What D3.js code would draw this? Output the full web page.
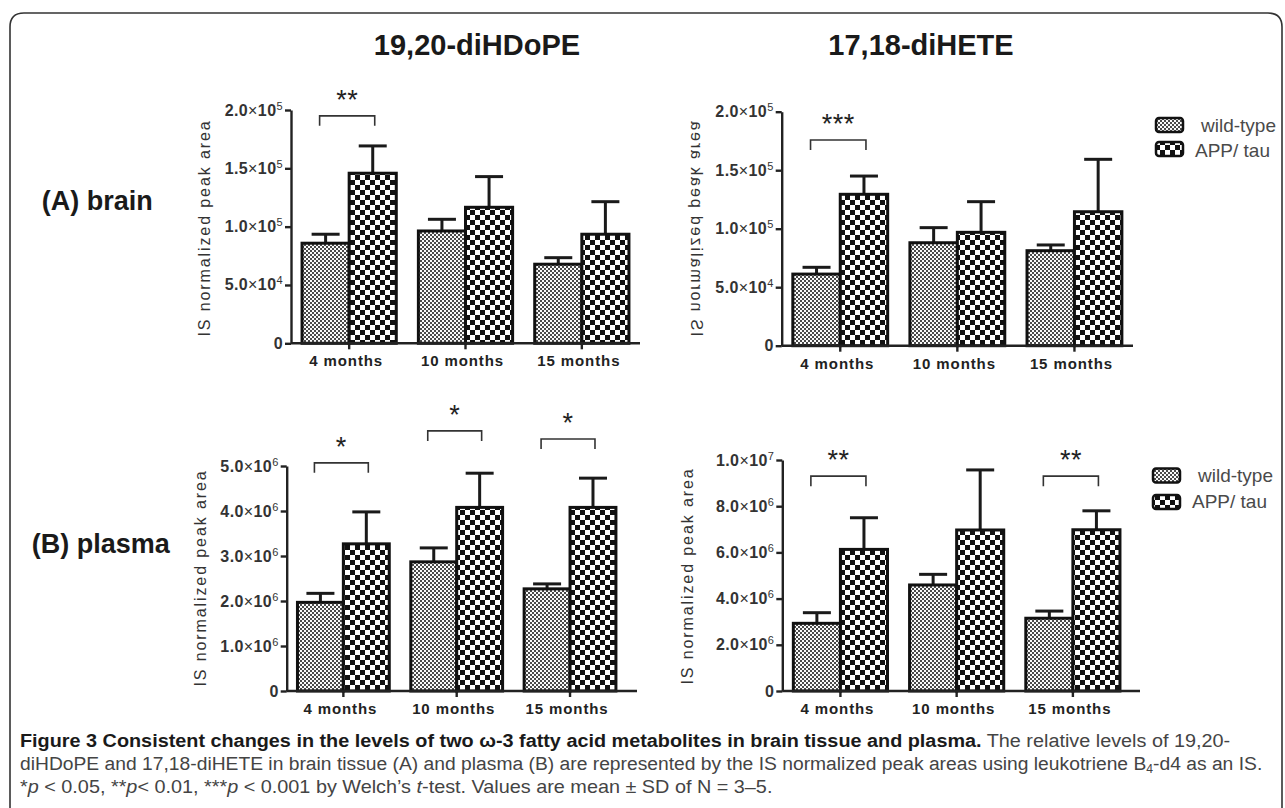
<!DOCTYPE html>
<html><head><meta charset="utf-8">
<script src="https://cdn.jsdelivr.net/npm/d3@7"></script>
<style>body{margin:0;background:#fff}svg{display:block}</style>
</head><body><svg id="c" width="1285" height="808"></svg>
<script>
// ---------- data ----------
const categories = ["4 months", "10 months", "15 months"];
const seriesNames = ["wild-type", "APP/ tau"];
const metaboliteTitles = ["19,20-diHDoPE", "17,18-diHETE"];
const tissueLabels = ["(A)", "brain", "(B)", "plasma"];
const yAxisTitle = "IS normalized peak area";

// (A) brain, 19,20-diHDoPE
const brainHDoPE_wt = [85800, 96300, 67800];
const brainHDoPE_wtSD = [7700, 10000, 5600];
const brainHDoPE_app = [145800, 116600, 93500];
const brainHDoPE_appSD = [23400, 26300, 27900];
const brainHDoPE_sig = ["**", "", ""];
const brainHDoPE_bracket = [195000, null, null];

// (A) brain, 17,18-diHETE
const brainHETE_wt = [61200, 88000, 81200];
const brainHETE_wtSD = [5800, 12900, 4900];
const brainHETE_app = [129400, 96900, 114500];
const brainHETE_appSD = [15600, 26200, 44800];
const brainHETE_sig = ["***", "", ""];
const brainHETE_bracket = [175800, null, null];

// (B) plasma, 19,20-diHDoPE
const plasmaHDoPE_wt = [1.97e6, 2.87e6, 2.27e6];
const plasmaHDoPE_wtSD = [0.20e6, 0.31e6, 0.11e6];
const plasmaHDoPE_app = [3.27e6, 4.08e6, 4.08e6];
const plasmaHDoPE_appSD = [0.71e6, 0.76e6, 0.65e6];
const plasmaHDoPE_sig = ["*", "*", "*"];
const plasmaHDoPE_bracket = [5.07e6, 5.78e6, 5.6e6];

// (B) plasma, 17,18-diHETE
const plasmaHETE_wt = [2.93e6, 4.59e6, 3.15e6];
const plasmaHETE_wtSD = [0.46e6, 0.46e6, 0.31e6];
const plasmaHETE_app = [6.13e6, 6.97e6, 6.98e6];
const plasmaHETE_appSD = [1.37e6, 2.60e6, 0.82e6];
const plasmaHETE_sig = ["**", "", "**"];
const plasmaHETE_bracket = [9.3e6, null, 9.3e6];

// tick values
const brainTicks = [0, 5e4, 1e5, 1.5e5, 2e5];
const plasmaHDoPETicks = [0, 1e6, 2e6, 3e6, 4e6, 5e6];
const plasmaHETETicks = [0, 2e6, 4e6, 6e6, 8e6, 1e7];

// ---------- drawing ----------
const svg = d3.select("#c");
const defs = svg.append("defs");
const FONT = "'Liberation Sans', Arial, Helvetica, sans-serif";

// patterns
const pWT = defs.append("pattern").attr("id", "pWT").attr("patternUnits", "userSpaceOnUse").attr("width", 4).attr("height", 4);
pWT.append("rect").attr("width", 4).attr("height", 4).attr("fill", "#fafafa");
pWT.append("rect").attr("width", 2).attr("height", 2).attr("fill", "#4a4a4a");
pWT.append("rect").attr("x", 2).attr("y", 2).attr("width", 2).attr("height", 2).attr("fill", "#4a4a4a");
const pAPP = defs.append("pattern").attr("id", "pAPP").attr("patternUnits", "userSpaceOnUse").attr("width", 10).attr("height", 10);
pAPP.append("rect").attr("width", 10).attr("height", 10).attr("fill", "#fff");
pAPP.append("rect").attr("width", 5).attr("height", 5).attr("fill", "#111");
pAPP.append("rect").attr("x", 5).attr("y", 5).attr("width", 5).attr("height", 5).attr("fill", "#111");
const fills = ["url(#pWT)", "url(#pAPP)"];

// frame
svg.append("path")
  .attr("d", "M10,820 V27 Q10,13 24,13 H1268 Q1282,13 1282,27 V820")
  .attr("fill", "none").attr("stroke", "#333").attr("stroke-width", 1.6);

function sciLabel(sel, v) {
  if (v === 0) { sel.text("0"); return; }
  const e = Math.floor(Math.log10(v) + 1e-9);
  const m = (v / Math.pow(10, e)).toFixed(1);
  sel.append("tspan").text(m);
  sel.append("tspan").attr("font-weight", "normal").text("\u00D7");
  sel.append("tspan").text("10");
  sel.append("tspan").attr("font-size", "11px").attr("font-weight", "normal").attr("dy", -6).text(e);
}

const panels = [
  { wt: brainHDoPE_wt, wtSD: brainHDoPE_wtSD, app: brainHDoPE_app, appSD: brainHDoPE_appSD,
    sig: brainHDoPE_sig, bracket: brainHDoPE_bracket, ticks: brainTicks,
    ax: 291, bandEnd: 640, axisEnd: 640, yBase: 343.3, yTop: 110, titleX: 204, titleY: 228, mirror: false },
  { wt: brainHETE_wt, wtSD: brainHETE_wtSD, app: brainHETE_app, appSD: brainHETE_appSD,
    sig: brainHETE_sig, bracket: brainHETE_bracket, ticks: brainTicks,
    ax: 781.7, bandEnd: 1133, axisEnd: 1133, yBase: 345.7, yTop: 111.7, titleX: 697, titleY: 228, mirror: true },
  { wt: plasmaHDoPE_wt, wtSD: plasmaHDoPE_wtSD, app: plasmaHDoPE_app, appSD: plasmaHDoPE_appSD,
    sig: plasmaHDoPE_sig, bracket: plasmaHDoPE_bracket, ticks: plasmaHDoPETicks,
    ax: 286.7, bandEnd: 626.7, axisEnd: 637, yBase: 691, yTop: 466, titleX: 200, titleY: 578, mirror: false },
  { wt: plasmaHETE_wt, wtSD: plasmaHETE_wtSD, app: plasmaHETE_app, appSD: plasmaHETE_appSD,
    sig: plasmaHETE_sig, bracket: plasmaHETE_bracket, ticks: plasmaHETETicks,
    ax: 782.3, bandEnd: 1131, axisEnd: 1140, yBase: 691, yTop: 460, titleX: 687, titleY: 576, mirror: false }
];

panels.forEach(p => {
  const g = svg.append("g");
  const y = d3.scaleLinear().domain([0, d3.max(p.ticks)]).range([p.yBase, p.yTop]);
  const x = d3.scaleBand().domain(categories).range([p.ax, p.bandEnd]).paddingInner(0.19).paddingOuter(0.095);
  const xs = d3.scaleBand().domain(seriesNames).range([0, x.bandwidth()]);

  const rows = [];
  categories.forEach((c, i) => {
    rows.push({ c, s: seriesNames[0], v: p.wt[i], sd: p.wtSD[i], k: 0 });
    rows.push({ c, s: seriesNames[1], v: p.app[i], sd: p.appSD[i], k: 1 });
  });

  // error bars
  const eb = g.append("g").attr("stroke", "#1a1a1a").attr("stroke-width", 3);
  rows.forEach(r => {
    const cx = x(r.c) + xs(r.s) + xs.bandwidth() / 2;
    eb.append("line").attr("x1", cx).attr("x2", cx).attr("y1", y(r.v)).attr("y2", y(r.v + r.sd));
    eb.append("line").attr("x1", cx - 14).attr("x2", cx + 14).attr("y1", y(r.v + r.sd)).attr("y2", y(r.v + r.sd));
  });

  // bars
  g.append("g").selectAll("rect").data(rows).join("rect")
    .attr("x", r => x(r.c) + xs(r.s))
    .attr("y", r => y(r.v))
    .attr("width", xs.bandwidth())
    .attr("height", r => y(0) - y(r.v))
    .attr("fill", r => fills[r.k])
    .attr("stroke", "#111").attr("stroke-width", 3);

  // y axis
  const ya = g.append("g").attr("transform", `translate(${p.ax},0)`)
    .call(d3.axisLeft(y).tickValues(p.ticks).tickSize(6).tickSizeOuter(0).tickFormat(""));
  ya.selectAll("path,line").attr("stroke", "#222").attr("stroke-width", 2.4);
  p.ticks.forEach(t => {
    const tx = g.append("text").attr("x", p.ax - 8).attr("y", y(t) + 5.5)
      .attr("text-anchor", "end").attr("font-family", FONT).attr("font-size", "16px")
      .attr("font-weight", "bold").attr("letter-spacing", "0.4px").attr("fill", "#333");
    sciLabel(tx, t);
  });

  // x axis
  const xa = g.append("g").attr("transform", `translate(0,${p.yBase})`)
    .call(d3.axisBottom(x).tickSize(6).tickSizeOuter(0).tickFormat(""));
  xa.select(".domain").remove();
  xa.selectAll("line").attr("stroke", "#222").attr("stroke-width", 2.4);
  g.append("line").attr("x1", p.ax).attr("x2", p.axisEnd).attr("y1", p.yBase).attr("y2", p.yBase)
    .attr("stroke", "#222").attr("stroke-width", 2.4);
  categories.forEach(c => {
    g.append("text").attr("x", x(c) + x.bandwidth() / 2 - 3).attr("y", p.yBase + 23)
      .attr("text-anchor", "middle").attr("font-family", FONT).attr("font-size", "15px")
      .attr("font-weight", "bold").attr("letter-spacing", "0.9px").attr("fill", "#222").text(c);
  });

  // y title
  g.append("text")
    .attr("transform", `translate(${p.titleX},${p.titleY}) rotate(-90)` + (p.mirror ? " scale(1,-1)" : ""))
    .attr("text-anchor", "middle").attr("dy", "0.36em")
    .attr("font-family", FONT).attr("font-size", "16px").attr("letter-spacing", "1.9px")
    .attr("fill", "#333").text(yAxisTitle);

  // significance brackets
  categories.forEach((c, i) => {
    if (!p.sig[i]) return;
    const x0 = x(c) + xs(seriesNames[0]) + xs.bandwidth() / 2 - 6;
    const x1 = x(c) + xs(seriesNames[1]) + xs.bandwidth() / 2 + 2;
    const yb = y(p.bracket[i]);
    g.append("path").attr("d", `M${x0},${yb + 10}V${yb}H${x1}V${yb + 10}`)
      .attr("fill", "none").attr("stroke", "#333").attr("stroke-width", 1.6);
    g.append("text").attr("x", (x0 + x1) / 2).attr("y", yb - 7)
      .attr("text-anchor", "middle").attr("font-family", FONT).attr("font-size", "27px")
      .attr("letter-spacing", "0.5px").attr("fill", "#222").text(p.sig[i]);
  });
});

// column titles
[[metaboliteTitles[0], 477], [metaboliteTitles[1], 921]].forEach(([t, cx]) => {
  svg.append("text").attr("x", cx).attr("y", 55).attr("text-anchor", "middle")
    .attr("font-family", FONT).attr("font-size", "29px").attr("font-weight", "bold")
    .attr("fill", "#1a1a1a").text(t);
});

// row labels
[[tissueLabels[0] + " " + tissueLabels[1], 41.7, 210], [tissueLabels[2] + " " + tissueLabels[3], 31.7, 553]].forEach(([t, lx, ly]) => {
  svg.append("text").attr("x", lx).attr("y", ly)
    .attr("font-family", FONT).attr("font-size", "27px").attr("font-weight", "bold")
    .attr("fill", "#1a1a1a").text(t);
});

// legends
[[1156, 125, 149, 132, 157], [1153, 475.5, 502, 482, 508]].forEach(([lx, c1, c2, b1, b2]) => {
  [[c1, b1, 0, lx + 45], [c2, b2, 1, lx + 39]].forEach(([cy, by, k, tx]) => {
    svg.append("rect").attr("x", lx).attr("y", cy - 7).attr("width", 27).attr("height", 14).attr("rx", 3)
      .attr("fill", fills[k]).attr("stroke", "#111").attr("stroke-width", 2.5);
    svg.append("text").attr("x", tx).attr("y", by).attr("font-family", FONT).attr("font-size", "19px")
      .attr("fill", "#4a4a4a").text(seriesNames[k]);
  });
});

// caption
const CAP = "'Liberation Sans', Arial, sans-serif";
function capLine(yb, target, build) {
  const t = svg.append("text").attr("font-family", CAP).attr("font-size", "19px").attr("fill", "#444");
  build(t);
  const w = t.node().getComputedTextLength();
  t.attr("transform", `translate(20,${yb}) scale(${target / w},1)`);
}
capLine(747, 1211, t => {
  t.append("tspan").attr("font-weight", "bold").attr("fill", "#1a1a1a")
    .text("Figure 3 Consistent changes in the levels of two \u03C9-3 fatty acid metabolites in brain tissue and plasma.");
  t.append("tspan").text(" The relative levels of 19,20-");
});
capLine(770, 1243, t => {
  t.append("tspan").text("diHDoPE and 17,18-diHETE in brain tissue (A) and plasma (B) are represented by the IS normalized peak areas using leukotriene B");
  t.append("tspan").attr("font-size", "12px").attr("dy", 3).text("4");
  t.append("tspan").attr("dy", -3).text("-d4 as an IS.");
});
capLine(793, 753, t => {
  t.append("tspan").text("*");
  t.append("tspan").attr("font-style", "italic").text("p");
  t.append("tspan").text(" < 0.05, **");
  t.append("tspan").attr("font-style", "italic").text("p");
  t.append("tspan").text("< 0.01, ***");
  t.append("tspan").attr("font-style", "italic").text("p");
  t.append("tspan").text(" < 0.001 by Welch\u2019s ");
  t.append("tspan").attr("font-style", "italic").text("t");
  t.append("tspan").text("-test. Values are mean \u00B1 SD of N = 3\u20135.");
});
</script>
</body></html>
